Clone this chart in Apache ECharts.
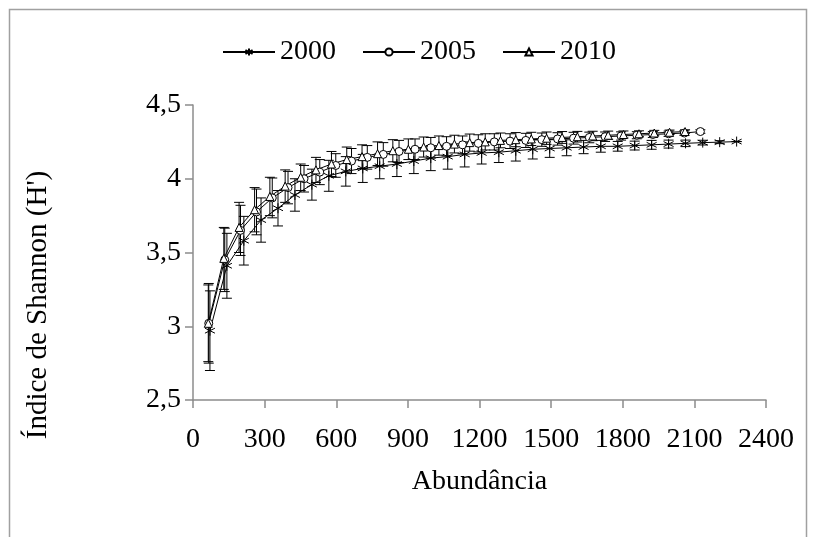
<!DOCTYPE html>
<html><head><meta charset="utf-8">
<script src="https://cdn.jsdelivr.net/npm/echarts@6/dist/echarts.min.js"></script>
<style>html,body{margin:0;padding:0;background:#fff}#c{width:815px;height:537px}</style>
</head><body><div id="c"></div>
<script>
const seriesNames = ['2000', '2005', '2010'];
const xTicks = ['0', '300', '600', '900', '1200', '1500', '1800', '2100', '2400'];
const yTicks = ['2,5', '3', '3,5', '4', '4,5'];

const x2000 = [71,142,213,285,356,427,498,569,640,711,782,854,925,996,1067,1138,1209,1281,1352,1423,1494,1565,1636,1708,1779,1850,1921,1992,2063,2135,2206,2277];
const y2000 = [2.97,3.41,3.58,3.72,3.80,3.89,3.96,4.02,4.05,4.07,4.085,4.10,4.12,4.14,4.15,4.165,4.175,4.18,4.19,4.20,4.205,4.21,4.215,4.22,4.22,4.225,4.23,4.235,4.24,4.245,4.248,4.252];
const e2000 = [0.27,0.22,0.165,0.15,0.12,0.11,0.105,0.105,0.10,0.095,0.085,0.085,0.085,0.085,0.085,0.085,0.075,0.07,0.07,0.066,0.06,0.054,0.045,0.04,0.033,0.03,0.03,0.027,0.022,0.016,0.01,0];

const x2005 = [66,133,199,266,332,398,465,531,598,664,730,797,863,930,996,1062,1129,1195,1262,1328,1394,1461,1527,1594,1660,1726,1793,1859,1926,1992,2058,2125];
const y2005 = [3.02,3.45,3.65,3.775,3.87,3.94,4.00,4.045,4.09,4.12,4.145,4.165,4.185,4.20,4.21,4.22,4.23,4.24,4.25,4.255,4.26,4.265,4.27,4.275,4.28,4.285,4.29,4.295,4.30,4.305,4.31,4.32];
const e2005 = [0.27,0.215,0.17,0.155,0.135,0.11,0.09,0.085,0.08,0.085,0.08,0.08,0.075,0.07,0.07,0.065,0.06,0.058,0.055,0.05,0.048,0.045,0.042,0.04,0.036,0.032,0.028,0.024,0.02,0.018,0.015,0.012];

const x2010 = [64,129,193,258,322,386,451,515,580,644,708,773,837,902,966,1030,1095,1159,1224,1288,1352,1417,1481,1546,1610,1674,1739,1803,1868,1932,1996,2061];
const y2010 = [3.02,3.46,3.67,3.79,3.88,3.95,4.01,4.06,4.10,4.13,4.15,4.17,4.19,4.20,4.215,4.225,4.235,4.245,4.25,4.26,4.265,4.27,4.275,4.28,4.285,4.29,4.295,4.30,4.305,4.31,4.315,4.32];
const e2010 = [0.26,0.21,0.17,0.15,0.13,0.11,0.09,0.085,0.085,0.085,0.08,0.08,0.075,0.07,0.068,0.065,0.06,0.058,0.055,0.05,0.048,0.045,0.042,0.04,0.036,0.032,0.028,0.024,0.02,0.018,0.015,0.012];

const FONT = '"Liberation Serif", "Times New Roman", serif';
const asterisk = 'path://M5,0L5,10M0.67,2.5L9.33,7.5M0.67,7.5L9.33,2.5';

function lineSeries(name, xs, ys, symbol, size) {
  return {
    type: 'line', name: name, symbol: symbol, symbolSize: size,
    data: xs.map((x, i) => [x, ys[i]]),
    lineStyle: { color: '#000', width: 1 },
    itemStyle: { color: '#fff', borderColor: '#000', borderWidth: 1 },
    z: 3, silent: true, animation: false
  };
}
function errSeries(xs, ys, es) {
  return {
    type: 'custom', name: 'err', silent: true, z: 2, animation: false,
    data: xs.map((x, i) => [x, ys[i] - es[i], ys[i] + es[i]]),
    encode: { x: 0, y: [1, 2] },
    renderItem: function (params, api) {
      const x = api.value(0), lo = api.value(1), hi = api.value(2);
      const a = api.coord([x, hi]), b = api.coord([x, lo]);
      const w = 5, st = { stroke: '#000', lineWidth: 1 };
      return { type: 'group', children: [
        { type: 'line', shape: { x1: a[0], y1: a[1], x2: b[0], y2: b[1] }, style: st },
        { type: 'line', shape: { x1: a[0] - w, y1: a[1], x2: a[0] + w, y2: a[1] }, style: st },
        { type: 'line', shape: { x1: b[0] - w, y1: b[1], x2: b[0] + w, y2: b[1] }, style: st }
      ]};
    }
  };
}

const chart = echarts.init(document.getElementById('c'));
chart.setOption({
  animation: false,
  backgroundColor: '#fff',
  grid: { left: 193, right: 49, top: 105, bottom: 137 },
  legend: {
    data: seriesNames, left: 222, top: 38, padding: 0,
    itemWidth: 52, itemHeight: 9, itemGap: 26,
    textStyle: { fontFamily: FONT, fontSize: 28, color: '#000' }
  },
  xAxis: {
    type: 'value', min: 0, max: 2400, interval: 300,
    name: 'Abundância', nameLocation: 'middle', nameGap: 68,
    nameTextStyle: { fontFamily: FONT, fontSize: 28, color: '#000' },
    axisLine: { lineStyle: { color: '#8c8c8c', width: 1.5 } },
    axisTick: { length: 8, lineStyle: { color: '#8c8c8c', width: 1.5 } },
    splitLine: { show: false },
    axisLabel: { fontFamily: FONT, fontSize: 28, color: '#000', margin: 26,
      formatter: function (v) { return xTicks[Math.round(v / 300)]; } }
  },
  yAxis: {
    type: 'value', min: 2.5, max: 4.5, interval: 0.5,
    axisLine: { show: true, lineStyle: { color: '#8c8c8c', width: 1.5 } },
    axisTick: { show: true, length: 8, lineStyle: { color: '#8c8c8c', width: 1.5 } },
    splitLine: { show: false },
    axisLabel: { fontFamily: FONT, fontSize: 28, color: '#000', margin: 12,
      formatter: function (v) { return yTicks[Math.round((v - 2.5) / 0.5)]; } }
  },
  graphic: [
    { type: 'rect', shape: { x: 9.5, y: 9.5, width: 797, height: 540 },
      style: { fill: 'none', stroke: '#a0a0a0', lineWidth: 1.5 }, silent: true },
    { type: 'text', x: 38, y: 305, rotation: Math.PI / 2,
      style: { text: "Índice de Shannon (H')", font: '29px ' + FONT, fill: '#000',
        textAlign: 'center', textVerticalAlign: 'middle' } }
  ],
  series: [
    errSeries(x2000, y2000, e2000),
    errSeries(x2005, y2005, e2005),
    errSeries(x2010, y2010, e2010),
    lineSeries(seriesNames[0], x2000, y2000, asterisk, 10),
    lineSeries(seriesNames[1], x2005, y2005, 'circle', 8),
    lineSeries(seriesNames[2], x2010, y2010, 'triangle', 8)
  ]
});
</script></body></html>
